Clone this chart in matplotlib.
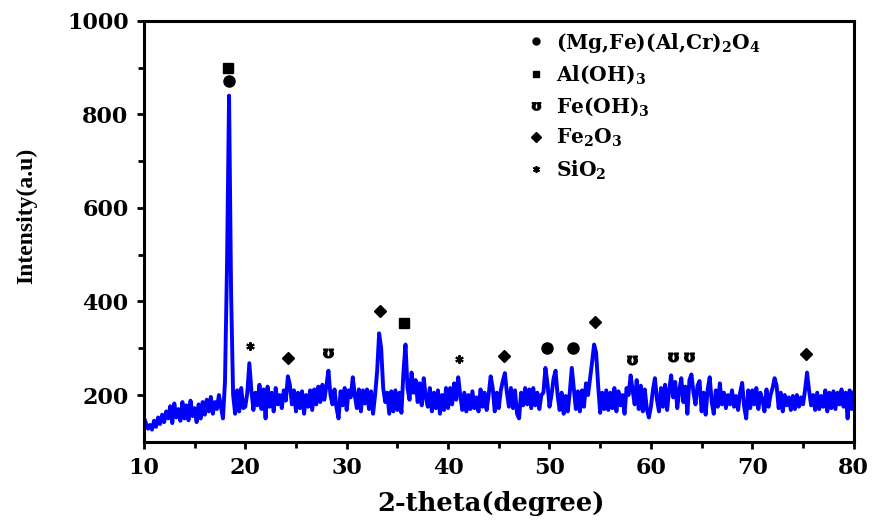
import numpy as np
import matplotlib
matplotlib.use("Agg")
import matplotlib.pyplot as plt
from matplotlib.lines import Line2D

plt.rcParams['mathtext.fontset'] = 'dejavuserif'
plt.rcParams['mathtext.default'] = 'bf'

# XRD pattern, 10..80 deg in 0.2 deg steps
two_theta = np.round(np.arange(10.0, 80.01, 0.2), 1)
intensity = [
    152, 140, 128, 136, 126, 145, 132, 152, 138, 158,   # 10
    142, 165, 150, 176, 140, 182, 152, 170, 145, 185,   # 12
    150, 178, 146, 188, 155, 172, 142, 180, 150, 185,   # 14
    158, 190, 165, 196, 160, 185, 170, 200, 175, 150,   # 16
    230, 480, 840, 420, 200, 160, 210, 165, 215, 172,   # 18
    175, 205, 268, 210, 168, 205, 178, 222, 170, 212,   # 20
    150, 218, 175, 205, 165, 215, 180, 200, 172, 210,   # 22
    188, 240, 222, 180, 210, 165, 205, 172, 208, 160,   # 24
    200, 175, 210, 168, 212, 180, 218, 185, 222, 190,   # 26
    220, 252, 200, 180, 212, 172, 150, 208, 178, 215,   # 28
    168, 210, 195, 238, 200, 172, 212, 165, 210, 182,   # 30
    212, 170, 208, 160, 200, 250, 332, 300, 215, 185,   # 32
    205, 160, 208, 165, 210, 168, 205, 162, 250, 308,   # 34
    215, 190, 248, 205, 232, 185, 225, 178, 236, 195,   # 36
    175, 215, 165, 205, 172, 210, 160, 200, 168, 215,   # 38
    172, 215, 180, 225, 190, 238, 200, 168, 205, 165,   # 40
    200, 170, 208, 172, 195, 165, 212, 175, 205, 168,   # 42
    200, 240, 215, 165, 205, 172, 210, 230, 247, 205,   # 44
    175, 215, 172, 210, 160, 150, 205, 178, 215, 180,   # 46
    212, 172, 215, 178, 205, 170, 200, 205, 258, 225,   # 48
    175, 200, 235, 252, 200, 168, 205, 160, 198, 165,   # 50
    205, 258, 215, 170, 208, 165, 210, 175, 225, 200,   # 52
    235, 270, 308, 290, 220, 162, 205, 170, 210, 168,   # 54
    205, 172, 215, 165, 208, 178, 200, 160, 215, 200,   # 56
    242, 210, 180, 232, 170, 220, 165, 212, 170, 152,   # 58
    175, 210, 236, 190, 165, 215, 175, 222, 168, 210,   # 60
    242, 195, 228, 172, 210, 236, 185, 218, 160, 232,   # 62
    244, 205, 180, 220, 230, 165, 205, 158, 212, 238,   # 64
    185, 160, 210, 175, 225, 180, 205, 172, 200, 180,   # 66
    210, 175, 198, 168, 205, 226, 175, 150, 210, 172,   # 68
    210, 180, 215, 170, 205, 190, 165, 212, 175, 200,   # 70
    215, 236, 220, 172, 205, 165, 200, 178, 195, 168,   # 72
    198, 170, 200, 175, 195, 180, 210, 248, 210, 178,   # 74
    200, 168, 205, 170, 198, 175, 210, 165, 205, 172,   # 76
    208, 170, 205, 180, 212, 175, 205, 150, 210, 170,   # 78
    205,
]

# phase markers above the peaks
spinel_x, spinel_y = [18.4, 49.8, 52.3], [872, 300, 300]
gibbsite_x, gibbsite_y = [18.3, 35.7], [899, 354]
feoh_x, feoh_y = [28.15, 58.1, 62.2, 63.8], [290, 275, 281, 281]
hematite_x, hematite_y = [24.2, 33.3, 45.5, 54.5, 75.3], [279, 380, 283, 356, 288]
quartz_x, quartz_y = [20.45, 41.1], [305, 277]

phase_labels = [r'(Mg,Fe)(Al,Cr)$_2$O$_4$', r'Al(OH)$_3$', r'Fe(OH)$_3$',
                r'Fe$_2$O$_3$', r'SiO$_2$']

fig = plt.figure(figsize=(8.72, 5.21), dpi=100)
ax = fig.add_axes([0.165, 0.152, 0.814, 0.808])

ax.plot(two_theta, intensity, color='#0000ff', lw=2.8)

ax.plot(spinel_x, spinel_y, 'o', color='black', ms=8, ls='none')
ax.plot(gibbsite_x, gibbsite_y, 's', color='black', ms=7, ls='none')
ax.plot(feoh_x, feoh_y, marker='$ʊ$', color='black', ms=7, ls='none')
ax.plot(hematite_x, hematite_y, 'D', color='black', ms=6, ls='none')
ax.plot(quartz_x, quartz_y, marker=(6, 2, 0), color='black', ms=6, mew=1.5, ls='none')

handles = [
    Line2D([], [], marker='o', color='black', ms=5, ls='none'),
    Line2D([], [], marker='s', color='black', ms=5, ls='none'),
    Line2D([], [], marker='$ʊ$', color='black', ms=6, ls='none'),
    Line2D([], [], marker='D', color='black', ms=5, ls='none'),
    Line2D([], [], marker=(6, 2, 0), color='black', ms=5, mew=1.2, ls='none'),
]
ax.legend(handles, phase_labels, loc='upper left', bbox_to_anchor=(0.515, 1.02),
          frameon=False, handlelength=0.8, handletextpad=0.6, labelspacing=0.45,
          prop={'family': 'DejaVu Serif', 'weight': 'bold', 'size': 14.5})

ax.set_xlim(10, 80)
ax.set_ylim(100, 1000)
ax.set_xticks(range(10, 81, 10))
ax.set_xticks(range(15, 80, 10), minor=True)
ax.set_yticks(range(200, 1001, 200))
ax.set_yticks(range(300, 1000, 200), minor=True)
ax.tick_params(which='major', direction='out', length=5, width=2, pad=6)
ax.tick_params(which='minor', direction='out', length=4, width=2)
for lab in ax.get_xticklabels() + ax.get_yticklabels():
    lab.set_family('DejaVu Serif')
    lab.set_fontweight('bold')
    lab.set_fontsize(16)
for sp in ax.spines.values():
    sp.set_linewidth(2.2)

ax.set_xlabel('2-theta(degree)', family='DejaVu Serif', fontweight='bold',
              fontsize=18.5)
ax.xaxis.set_label_coords(0.489, -0.117)
ax.set_ylabel('Intensity(a.u)', family='Liberation Serif', fontweight='bold',
              fontsize=17)
ax.yaxis.set_label_coords(-0.15, 0.537)

fig.savefig('out.png', dpi=100)
